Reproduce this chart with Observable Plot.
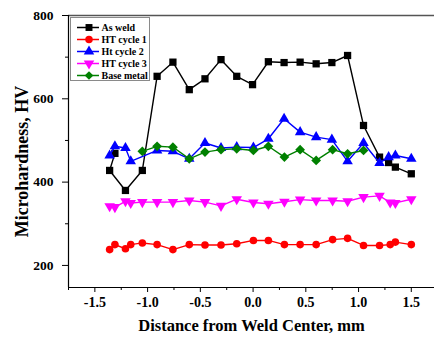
<!DOCTYPE html>
<html><head><meta charset="utf-8">
<script src="https://cdn.jsdelivr.net/npm/d3@7"></script>
<script src="https://cdn.jsdelivr.net/npm/@observablehq/plot@0.6"></script>
<style>
html,body{margin:0;padding:0;background:#fff;}
#chart{position:relative;width:434px;height:338px;overflow:hidden;}
#legend{position:absolute;left:70px;top:17px;}
</style></head><body><div id="chart"></div>
<script>
// ---- data ----
const seriesNames = ["As weld", "HT cycle 1", "Ht cycle 2", "HT cycle 3", "Base metal"];
const seriesColors = ["#000000", "#ff0000", "#0000ff", "#ff00ff", "#008000"];
const seriesSymbols = ["square", "circle", "triangle", "triangle", "diamond2"];
const seriesRotate = [0, 0, 0, 180, 0];

const asWeldX = [-1.31, -1.36, -1.21, -1.05, -0.91, -0.76, -0.605, -0.456, -0.304, -0.155, -0.005, 0.145, 0.294, 0.446, 0.598, 0.747, 0.896, 1.047, 1.199, 1.285, 1.349, 1.50];
const asWeldY = [469, 428, 380, 428, 654, 688, 622, 648, 694, 654, 634, 689, 687, 688, 684, 687, 704, 536, 460, 447, 436, 420];

const ht1X = [-1.36, -1.31, -1.21, -1.16, -1.05, -0.91, -0.76, -0.605, -0.456, -0.304, -0.155, 0.003, 0.145, 0.297, 0.446, 0.598, 0.754, 0.896, 1.047, 1.199, 1.30, 1.349, 1.50];
const ht1Y = [238, 250, 240, 250, 254, 250, 238, 250, 249, 249, 252, 260, 260, 250, 250, 250, 262, 265, 248, 248, 250, 256, 250];

const ht2X = [-1.36, -1.31, -1.21, -1.16, -0.91, -0.76, -0.605, -0.456, -0.304, -0.155, 0.003, 0.145, 0.294, 0.446, 0.598, 0.747, 0.896, 1.047, 1.199, 1.285, 1.349, 1.50];
const ht2Y = [464, 486, 482, 450, 476, 474, 456, 494, 482, 484, 483, 504, 552, 520, 508, 502, 450, 494, 446, 460, 464, 456];

const ht3X = [-1.36, -1.31, -1.21, -1.16, -1.05, -0.91, -0.76, -0.605, -0.456, -0.304, -0.155, 0.003, 0.145, 0.297, 0.446, 0.598, 0.754, 0.896, 1.047, 1.199, 1.30, 1.349, 1.50];
const ht3Y = [342, 340, 354, 350, 352, 352, 352, 356, 352, 343, 359, 351, 348, 353, 358, 356, 356, 354, 364, 367, 351, 350, 359];

const baseX = [-1.05, -0.91, -0.76, -0.605, -0.456, -0.304, -0.155, 0.003, 0.145, 0.297, 0.446, 0.598, 0.754, 0.896, 1.047];
const baseY = [474, 486, 484, 456, 472, 478, 480, 476, 486, 460, 478, 452, 478, 468, 476];

const xTicks = [-1.5, -1.0, -0.5, 0.0, 0.5, 1.0, 1.5];
const xMinorTicks = [-1.75, -1.25, -0.75, -0.25, 0.25, 0.75, 1.25];
const yTicks = [200, 400, 600, 800];
const yMinorTicks = [300, 500, 700];

const xLabel = "Distance from Weld Center, mm";
const yLabel = "Microhardness, HV";

// ---- build table ----
const seriesXY = [[asWeldX, asWeldY], [ht1X, ht1Y], [ht2X, ht2Y], [ht3X, ht3Y], [baseX, baseY]];
const tables = seriesXY.map(([xs, ys], i) => xs.map((x, j) => ({series: seriesNames[i], x, y: ys[j]})));

const font = "'Liberation Serif','Times New Roman',serif";
const dotR = [4.1, 3.8, 3.9, 3.9, 4.4];
const drawOrder = [0, 1, 3, 2, 4];

const seriesMarks = [];
for (const i of drawOrder) {
  seriesMarks.push(Plot.line(tables[i], {x: "x", y: "y", stroke: seriesColors[i], strokeWidth: 1.4}));
  seriesMarks.push(Plot.dot(tables[i], {x: "x", y: "y", symbol: () => seriesSymbols[i], fill: seriesColors[i], stroke: "none", r: dotR[i], rotate: seriesRotate[i]}));
}

const plot = Plot.plot({
  width: 434, height: 338,
  marginLeft: 68, marginTop: 15, marginBottom: 51, marginRight: 0,
  x: {domain: [-1.75, 1.72]},
  y: {domain: [147, 800]},
  symbol: {type: "identity"},
  style: {fontFamily: font, fontWeight: "bold", fontSize: "13px", color: "#000", background: "#fff"},
  marks: [
    Plot.ruleY([800], {stroke: "#555", strokeWidth: 1.5}),
    Plot.ruleX([-1.75], {stroke: "#000", strokeWidth: 1.2}),
    Plot.ruleY([147], {stroke: "#000", strokeWidth: 1.2}),
    Plot.axisX({ticks: xTicks, tickFormat: d => d.toFixed(1), tickSize: 5, tickPadding: 5, label: null, fontSize: 14}),
    Plot.axisX({ticks: xMinorTicks, tickFormat: () => "", tickSize: 3, label: null}),
    Plot.axisY({ticks: yTicks, tickSize: 6, tickPadding: 9, label: null, fontSize: 13.5}),
    Plot.axisY({ticks: yMinorTicks, tickFormat: () => "", tickSize: 3, label: null}),
    ...seriesMarks,
    Plot.text([yLabel], {frameAnchor: "left", textAnchor: "middle", dx: -46, dy: 10, rotate: -90, fontSize: 18, fontWeight: "bold"}),
    Plot.text([xLabel], {frameAnchor: "bottom", textAnchor: "middle", dy: 43, fontSize: 16.5, fontWeight: "bold"})
  ]
});
const chart = document.getElementById("chart");
chart.appendChild(plot);

// ---- legend ----
const symMap = {square: d3.symbolSquare, circle: d3.symbolCircle, triangle: d3.symbolTriangle, diamond2: d3.symbolDiamond2 || d3.symbolSquare};
const lg = d3.select(chart).append("svg").attr("id", "legend").attr("width", 80).attr("height", 65);
lg.append("rect").attr("x", 0.5).attr("y", 0.5).attr("width", 79).attr("height", 63).attr("fill", "#fff").attr("stroke", "#8a8a8a");
seriesNames.forEach((name, i) => {
  const g = lg.append("g").attr("transform", `translate(0,${10.5 + i * 12})`);
  g.append("line").attr("x1", 7).attr("x2", 29).attr("stroke", seriesColors[i]).attr("stroke-width", 1.5);
  g.append("path").attr("transform", `translate(19,0) rotate(${seriesRotate[i]})`)
    .attr("d", d3.symbol(symMap[seriesSymbols[i]], seriesSymbols[i] === "circle" ? 44 : 48)())
    .attr("fill", seriesColors[i]);
  g.append("text").attr("x", 31.5).attr("y", 0).attr("dy", "0.35em")
    .attr("font-family", font).attr("font-weight", "bold").attr("font-size", "10px").text(name);
});
</script></body></html>
